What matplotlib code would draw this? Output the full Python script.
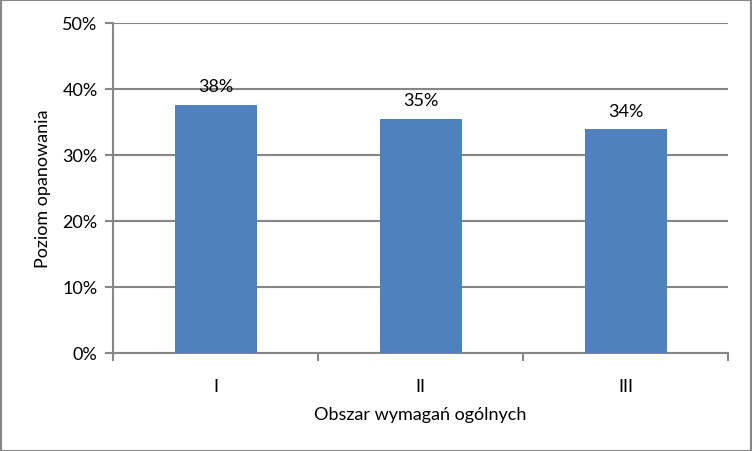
import matplotlib
matplotlib.use("Agg")
import matplotlib.pyplot as plt
from matplotlib.patches import Rectangle
from matplotlib.ticker import FuncFormatter, FixedLocator

categories = ["I", "II", "III"]
values = [0.376, 0.355, 0.339]
labels = ["38%", "35%", "34%"]
yticks = [0, 0.1, 0.2, 0.3, 0.4, 0.5]

plt.rcParams['font.family'] = ['Lato', 'DejaVu Sans']
FS = 13

W, H = 752, 452
fig = plt.figure(figsize=(W/100, H/100), dpi=100)
ax = fig.add_axes([113/W, 1-354/H, (728-113)/W, (354-24)/H])

gray = "#868686"
x = list(range(len(categories)))
ax.bar(x, values, width=0.4, color="#4F81BD", zorder=3)
for xi, v, lab in zip(x, values, labels):
    ax.text(xi, v + 0.016, lab, ha="center", va="bottom", fontsize=FS, color="black")

ax.set_xlim(-0.5, len(categories) - 0.5)
ax.set_ylim(0, 0.5)
ax.set_yticks(yticks)
ax.yaxis.set_major_formatter(FuncFormatter(lambda v, p: f"{v*100:.0f}%"))
ax.set_xticks(x)
ax.set_xticklabels(categories)
ax.xaxis.set_minor_locator(FixedLocator([-0.5, 0.5, 1.5, 2.5]))
ax.tick_params(axis="x", which="major", length=0, pad=18, labelsize=FS)
ax.tick_params(axis="x", which="minor", length=6, width=1.5, color=gray, direction="out")
ax.tick_params(axis="y", length=6, width=1.5, color=gray, labelsize=FS, pad=5)

ax.grid(axis="y", color=gray, linewidth=1.5, zorder=0)
for s in ["top", "right"]:
    ax.spines[s].set_visible(False)
for s in ["left", "bottom"]:
    ax.spines[s].set_color(gray)
    ax.spines[s].set_linewidth(1.5)

ax.set_ylabel("Poziom opanowania", fontsize=FS, labelpad=8)
ax.set_xlabel("Obszar wymagań ogólnych", fontsize=FS, labelpad=9)

fig.patches.append(Rectangle((0.5/W, 0.5/H), 1-1.5/W, 1-1.5/H, transform=fig.transFigure,
                             fill=False, edgecolor=gray, linewidth=1.5))

fig.savefig("out.png", dpi=100)
